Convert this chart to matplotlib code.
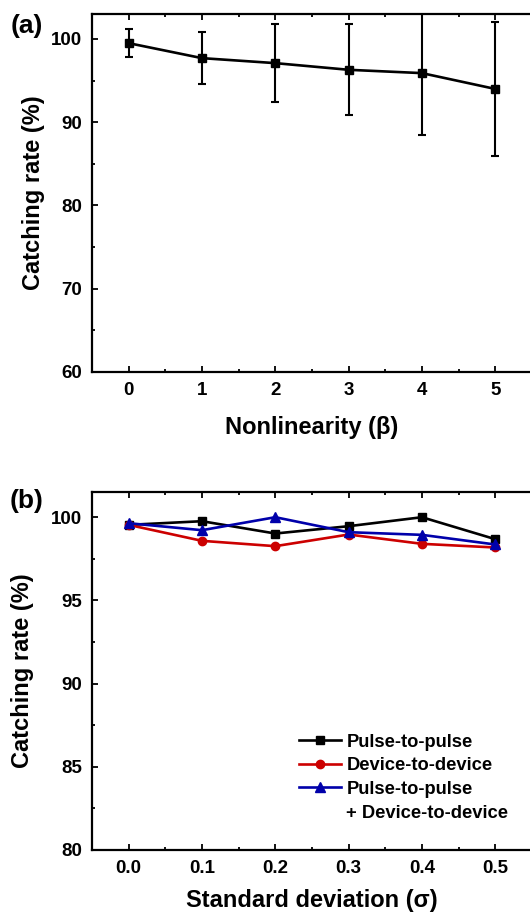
import numpy as np
import matplotlib.pyplot as plt
from matplotlib.lines import Line2D
from matplotlib.ticker import MultipleLocator

# panel (a) data
beta = [0, 1, 2, 3, 4, 5]
rate_a = [99.5, 97.7, 97.1, 96.3, 95.9, 94.0]
err_a = [1.7, 3.1, 4.7, 5.45, 7.4, 8.1]

# panel (b) data
sigma = [0.0, 0.1, 0.2, 0.3, 0.4, 0.5]
pulse = [99.54, 99.76, 99.02, 99.46, 100.0, 98.68]
device = [99.54, 98.58, 98.26, 98.96, 98.40, 98.18]
both = [99.64, 99.22, 100.0, 99.10, 98.94, 98.36]

fontSize = 13.5
labelSize = 17
plt.rcParams['font.family'] = ['Liberation Sans', 'DejaVu Sans']
plt.rcParams['font.weight'] = 'bold'
plt.rcParams['font.size'] = fontSize

fig = plt.figure(figsize=(5.3, 9.16), dpi=100)
ax1 = fig.add_axes([0.1736, 0.5939, 0.83, 0.3908])
ax2 = fig.add_axes([0.1736, 0.0721, 0.83, 0.3905])


def style(ax):
    for s in ax.spines.values():
        s.set_linewidth(1.6)
    ax.tick_params(which='both', direction='in', top=True, right=False, width=1.3)
    ax.tick_params(which='major', length=4.5, pad=7, labelsize=fontSize)
    ax.tick_params(which='minor', length=2.2)


ax1.errorbar(beta, rate_a, yerr=err_a, color='black', linewidth=1.9, marker='s',
             markersize=6, capsize=3, elinewidth=1.5, capthick=1.5)
ax1.set_xlim(-0.5, 5.5)
ax1.set_ylim(60, 103)
ax1.xaxis.set_major_locator(MultipleLocator(1))
ax1.xaxis.set_minor_locator(MultipleLocator(0.5))
ax1.yaxis.set_major_locator(MultipleLocator(10))
ax1.yaxis.set_minor_locator(MultipleLocator(5))
style(ax1)
ax1.set_xlabel("Nonlinearity (β)", fontsize=labelSize, fontweight='bold')
ax1.set_ylabel("Catching rate (%)", fontsize=labelSize, fontweight='bold')
ax1.xaxis.set_label_coords(0.5, -0.156)
ax1.yaxis.set_label_coords(-0.134, 0.5)
ax1.xaxis.label.set_va('center')
ax1.yaxis.label.set_va('center')

ax2.plot(sigma, pulse, color='black', linewidth=1.9, marker='s', markersize=6, label='Pulse-to-pulse')
ax2.plot(sigma, device, color='#CC0000', linewidth=1.9, marker='o', markersize=6, label='Device-to-device')
ax2.plot(sigma, both, color='#0000AA', linewidth=1.9, marker='^', markersize=7, label='Pulse-to-pulse')
ax2.set_xlim(-0.05, 0.55)
ax2.set_ylim(80, 101.5)
ax2.xaxis.set_major_locator(MultipleLocator(0.1))
ax2.xaxis.set_minor_locator(MultipleLocator(0.05))
ax2.yaxis.set_major_locator(MultipleLocator(5))
ax2.yaxis.set_minor_locator(MultipleLocator(2.5))
ax2.xaxis.set_major_formatter(plt.FormatStrFormatter('%.1f'))
style(ax2)
ax2.set_xlabel("Standard deviation (σ)", fontsize=labelSize, fontweight='bold')
ax2.set_ylabel("Catching rate (%)", fontsize=labelSize, fontweight='bold')
ax2.xaxis.set_label_coords(0.5, -0.140)
ax2.yaxis.set_label_coords(-0.159, 0.5)
ax2.xaxis.label.set_va('center')
ax2.yaxis.label.set_va('center')

handles, labels = ax2.get_legend_handles_labels()
handles.append(Line2D([], [], color='none'))
labels.append('+ Device-to-device')
ax2.legend(handles, labels, loc='upper left', bbox_to_anchor=(0.47, 0.325), frameon=False,
           borderpad=0, borderaxespad=0, labelspacing=0.36, handlelength=2.3,
           handletextpad=0.3, fontsize=13.2)

fig.text(0.051, 1 - 26 / 916, "(a)", fontsize=19, fontweight='bold', ha='center', va='center')
fig.text(0.051, 1 - 501 / 916, "(b)", fontsize=19, fontweight='bold', ha='center', va='center')

fig.savefig("out.png", dpi=100)
